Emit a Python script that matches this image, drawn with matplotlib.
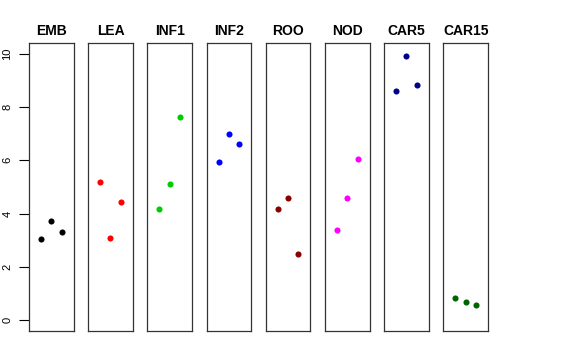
import matplotlib
matplotlib.use("Agg")
import matplotlib.pyplot as plt

plt.rcParams['font.family'] = ['Liberation Sans', 'DejaVu Sans']

# categories and their three values each (left, middle, right position)
groupes = ["EMB", "LEA", "INF1", "INF2", "ROO", "NOD", "CAR5", "CAR15"]
valeurs = [
    [3.04, 3.71, 3.32],
    [5.18, 3.08, 4.42],
    [4.16, 5.11, 7.64],
    [5.92, 6.97, 6.61],
    [4.18, 4.57, 2.47],
    [3.40, 4.60, 6.06],
    [8.61, 9.90, 8.82],
    [0.83, 0.69, 0.58],
]
couleurs = ["black", "red", "#00CD00", "blue", "#8B0000", "magenta", "#00008B", "#006400"]
positions = [1, 2, 3]
graduations = [0, 2, 4, 6, 8, 10]

W, H = 576, 360
fig = plt.figure(figsize=(W / 100, H / 100), dpi=100)

gauche0 = 29
largeur = 44.5
pas = 59.2
haut = 43
bas = 331

for i, (nom, vals, coul) in enumerate(zip(groupes, valeurs, couleurs)):
    x0 = gauche0 + i * pas
    ax = fig.add_axes([x0 / W, 1 - bas / H, largeur / W, (bas - haut) / H])
    ax.plot(positions, vals, 'o', color=coul, markersize=4.4, markeredgewidth=0)
    ax.set_xlim(-0.16, 4.16)
    ax.set_ylim(-0.4, 10.4)
    ax.set_xticks([])
    ax.set_title(nom, fontsize=10, fontweight='bold', pad=6)
    for s in ax.spines.values():
        s.set_linewidth(0.9)
        s.set_color('#333333')
    if i == 0:
        ax.set_yticks(graduations)
        ax.set_yticklabels([str(g) for g in graduations], fontsize=8)
        ax.tick_params(axis='y', length=7, width=0.8, pad=5, labelrotation=90)
        for lab in ax.get_yticklabels():
            lab.set_va('center')
    else:
        ax.set_yticks([])

fig.savefig("out.png", dpi=100)
